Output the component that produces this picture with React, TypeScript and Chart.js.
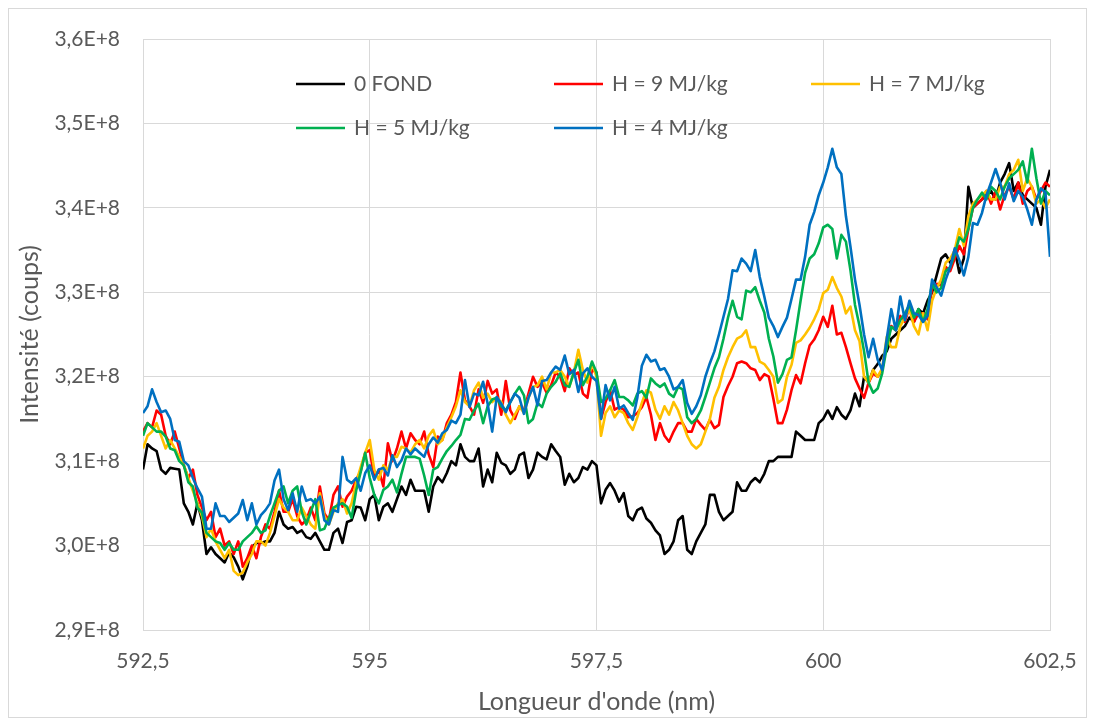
import React, { useEffect, useRef } from "react";
import { Chart, registerables } from "chart.js";

Chart.register(...registerables);

// Wavelength grid (nm): 592.5 -> 602.5, step 0.05
const startNm = 592.5;
const stepNm = 0.05;
const pointCount = 201;
const wavelengths = Array.from({ length: pointCount }, (_, i) => +(startNm + i * stepNm).toFixed(2));

// Intensities in millions of counts (x 1e6), one value per 0.05 nm
const fond = [
  309, 312, 311.5, 311.2, 309, 308.5, 309.2, 309.1, 309, 305, 304, 302.5, 305, 303, 299, 299.8, 299, 298.5, 298, 299.2,
  298.6, 297.5, 296, 297.5, 299.8, 300.3, 300.3, 300.5, 300.5, 301.5, 304, 302.5, 302, 302.2, 301.5, 301.8, 301, 300.8, 301.5, 300.5,
  299.5, 299.5, 301.5, 302, 300.3, 302.8, 303, 304.6, 304.5, 303, 305.5, 306, 303, 304.6, 305, 304, 305.5, 307, 306, 307.8,
  306.5, 306.5, 306.5, 304, 307, 308.1, 307.5, 308.6, 310, 309.5, 312, 310.5, 310, 310, 311.5, 307, 309, 307.5, 311, 309.8,
  309.5, 308.5, 309, 310.7, 311, 308, 309, 311, 310.5, 310.2, 312, 311.2, 310.5, 307.2, 308.5, 307.5, 308, 309.3, 309, 310,
  309.5, 305, 306.6, 307.4, 306.5, 305.2, 306.2, 303.5, 303, 304.2, 304.5, 303.2, 302.7, 301.8, 301.2, 299, 299.5, 300.5, 303, 303.5,
  299.5, 299, 300.5, 301.5, 302.5, 306, 306, 304, 303, 303.5, 304, 307.5, 306.5, 306.5, 307.5, 308, 307.5, 308.5, 310, 310,
  310.5, 310.5, 310.5, 310.5, 313.5, 313, 312.5, 312.5, 312.5, 314.5, 315, 316, 315, 316.4, 315.5, 315, 316, 318, 316.5, 320,
  319.3, 320.8, 321.5, 322.5, 323, 324.5, 325, 325.5, 326, 327, 326.5, 328, 327.5, 329, 330, 332, 334, 334.5, 333.5, 335,
  332.3, 334, 342.5, 340, 340.5, 341, 341.5, 342, 341, 343, 344, 345.3, 342, 343, 341.5, 341, 340.5, 340, 338, 342.5,
  344.5,
];

const h9 = [
  313.5, 314.5, 314, 316, 315.5, 313, 312, 313.5, 311.5, 309.5, 308, 309, 306, 304.5, 303, 304, 301, 302, 300, 300.5,
  299, 300.5, 297.5, 298.5, 300, 298.5, 301, 302.5, 302, 304, 306.5, 304, 304, 305.5, 303.5, 302.5, 303, 304.5, 303, 307,
  303.8, 303, 306, 307, 304.6, 305.8, 306.5, 307.8, 308.8, 311, 311.3, 308, 309, 307, 312.1, 310, 311.5, 313.5, 311.5, 313.3,
  312.5, 312, 313.5, 310.8, 309.3, 312.9, 312.5, 314.5, 315.5, 317, 320.5, 317.2, 316.5, 315.5, 318.5, 316.9, 319.5, 318, 318.5, 315.5,
  319.5, 316, 315, 316.5, 316, 318, 320, 318.8, 319.3, 318.1, 319, 320.5, 320, 318.3, 321, 320.2, 320.5, 318, 317.5, 320.8,
  320.5, 315, 317, 318.4, 316.1, 316.4, 316.1, 315.2, 315.3, 315.7, 316.4, 317.6, 315.5, 312.5, 314.5, 313, 312.3, 313.5, 314.5, 314.5,
  313.5, 313.5, 315, 314.3, 313.7, 314.9, 313.9, 314.3, 317.6, 318.9, 320, 321.6, 321.8, 321.6, 321, 320.8, 319.6, 320.3, 320, 317.4,
  314.5, 314.5, 316.1, 318.4, 320.2, 319.2, 321.6, 323.7, 324.4, 325.5, 327.1, 325.9, 328.4, 325, 325.2, 323.5, 321.6, 319.8, 318.6, 317.5,
  319.3, 320.4, 320, 320.8, 324, 326, 325.5, 327.2, 326.5, 328.3, 326.5, 327.5, 327.5, 326.8, 330.5, 331, 330.8, 333, 332.5, 334,
  335.5, 334.5, 337.5, 340, 340.5, 341, 342, 340.5, 342, 339.8, 341.5, 342.5, 341, 343, 340.5, 342, 342.5, 341, 342, 343,
  342.5,
];

const h7 = [
  311.5, 313, 313.5, 314.5, 313, 311.5, 312.5, 311.5, 310.5, 309.5, 308, 306.5, 305, 303.5, 301, 302, 300.5, 299.5, 298.5, 299.5,
  297, 296.5, 296.8, 298, 299, 300.5, 300.5, 300, 301.5, 303.5, 305.5, 304.5, 304, 303, 303, 304.5, 303.5, 302.5, 302, 306.2,
  303.5, 302.5, 304, 305, 305.5, 303.8, 305, 307.5, 309.3, 311, 312.5, 309, 307.8, 309.5, 309, 310.5, 310.5, 311.7, 311.5, 311,
  312, 312.5, 311.5, 313, 313.7, 312, 312.5, 314, 315.2, 316.5, 318.4, 317, 316.5, 318.4, 319.3, 317.5, 318, 317, 317.5, 317,
  315.5, 314.5, 315.5, 316.5, 315.7, 317.5, 318.8, 319, 320, 318.5, 320.5, 320.5, 320.8, 320, 318.8, 320.5, 323.2, 320.8, 319.3, 321.6,
  320, 313, 315.7, 316.5, 315.2, 316, 315.7, 314.5, 313.7, 315.2, 316.9, 318.4, 318.1, 316.1, 315, 316.5, 315.5, 317, 316, 314.5,
  313, 312, 311.5, 312, 313.5, 315, 317.5, 318.8, 320.8, 322.3, 323.5, 324.5, 324.8, 325.5, 323.5, 323.5, 321.8, 321.5, 320.8, 320,
  316.9, 317.3, 320, 321.4, 324, 324.3, 325, 325.8, 326.8, 328, 329.9, 330.3, 331.8, 330.5, 329.5, 327.5, 328.3, 325.5, 324.2, 320,
  319.3, 320.8, 320, 321, 324.7, 323.5, 323.5, 326, 327, 328, 326, 325, 327.5, 325.5, 329, 330.5, 331.5, 333.5, 334, 335,
  337.5, 335.5, 339, 340.5, 341, 341.5, 342, 341, 341, 342.5, 342.5, 344, 344.5, 345.7, 342, 343.5, 342.5, 340.5, 341, 340,
  341,
];

const h5 = [
  313, 314.5, 314, 313.5, 313.5, 312.9, 311.5, 311.3, 310, 309.5, 307.5, 307, 304.5, 303.9, 301.5, 301, 300.5, 300.3, 299.5, 300.3,
  299.5, 299.5, 300.5, 301, 301.5, 302.3, 301.5, 301.8, 303.5, 305, 306.5, 307, 305, 306.5, 307, 304, 302.5, 304, 305.5, 301.8,
  302, 303.3, 304.5, 304.8, 305, 304.6, 303.3, 306.5, 308.7, 311, 308, 306, 305, 306.6, 307, 307.8, 306.3, 308.5, 310.5, 310.5,
  310.5, 310.3, 308.3, 306, 309, 309.3, 310.3, 311.2, 311.8, 312.5, 313.1, 315, 314.9, 316, 316.8, 314.5, 316.5, 317.3, 317.5, 316.5,
  316, 317, 318, 318.8, 317.8, 314.5, 315, 316.9, 316.4, 318, 318.8, 319.4, 320.4, 319, 318.8, 320.5, 322, 319, 320, 321.8,
  320.5, 317, 317.4, 318.4, 319.6, 317.6, 317.6, 317.2, 316.6, 318, 318.3, 317.5, 319.8, 319.2, 318.8, 319.2, 318, 317.6, 318.8, 318.5,
  315.2, 314.5, 315, 316, 317.6, 319.3, 321, 322.3, 324.5, 327, 329, 327.1, 326.8, 330.2, 330, 330.6, 329, 327.6, 324.5, 322.4,
  319.3, 320.3, 322, 322.3, 325.5, 329, 332.3, 334, 334.5, 335.8, 337.7, 338, 337.5, 334, 336.8, 336, 332.6, 328.5, 326, 323,
  319.3, 318.1, 318.6, 320.4, 323.5, 325.9, 325.5, 326.7, 327.5, 328.5, 327, 328, 326.5, 328, 331, 330, 330.5, 332.5, 333, 334.5,
  336.5, 336, 337.5, 340, 341, 341.8, 341, 342.5, 342, 341, 342.5, 343.5, 344, 344.5, 345.5, 343, 347, 343.5, 340.5, 342,
  341.5,
];

const h4 = [
  315.7, 316.5, 318.5, 317, 315.8, 316, 315, 312.5, 312.3, 310, 309.5, 308, 306.8, 305.8, 302, 302, 305, 303.5, 303.5, 302.8,
  303.3, 303.8, 305.4, 303, 305, 302.5, 303.6, 304.2, 305, 307.7, 309, 305.5, 304.2, 306.2, 304, 307, 305.3, 305.5, 305, 305.8,
  303, 302.5, 304.2, 304, 310.5, 307.8, 307.4, 308, 306.5, 308.6, 309.5, 307.8, 309, 309.2, 308.3, 310.7, 309.3, 310.1, 311.5, 310.8,
  311.5, 311, 310.5, 312, 312.8, 312.2, 313.3, 313.7, 314.8, 314.5, 315.5, 319.6, 316.4, 318, 317.8, 319.4, 316.8, 313.5, 317.6, 316.8,
  315.8, 317, 318, 317.5, 315.6, 317.5, 318.8, 316.6, 319.5, 319.6, 320.5, 321.2, 320.8, 322.5, 320.3, 320.8, 318.2, 320.4, 321, 320,
  319.5, 315, 319, 317.2, 318.8, 316.2, 316.6, 315.7, 314.9, 317.5, 321.3, 322.6, 321.8, 322, 320.8, 321, 320, 318.5, 318.8, 319.6,
  316.9, 315.6, 316.5, 317.8, 320, 321.6, 323, 325, 327.1, 329.2, 332.6, 332.5, 334, 333.4, 332.5, 335, 331.8, 329.5, 327, 326,
  324.7, 325.9, 327, 329.2, 331.5, 331.5, 334.2, 338, 339.5, 341.5, 343, 344.8, 347, 344.8, 344, 339, 335.4, 331.5, 328.5, 325,
  322.3, 324.5, 322, 320.8, 324.5, 328, 325.5, 329.5, 326.7, 329, 327.5, 327.3, 326.5, 327.2, 331.5, 330.6, 329.6, 331.5, 333, 335.2,
  333.8, 332, 334.2, 338.2, 338, 339.4, 341.5, 343, 344.6, 343, 341, 342.9, 340.8, 342, 341.3, 339.8, 338, 341, 342.3, 341.8,
  334.2,
];

const UNIT = 1e6;
const seriesLabels = ["0 FOND", "H = 9 MJ/kg", "H = 7 MJ/kg", "H = 5 MJ/kg", "H = 4 MJ/kg"];
const seriesColors = ["#000000", "#FF0000", "#FFC000", "#00B050", "#0070C0"];
const seriesValues = [fond, h9, h7, h5, h4];

const TEXT = "#595959";
const GRID = "#d9d9d9";
const FONT = "Lato, 'Open Sans', sans-serif";
const LINE_W = 2.6;

const legendPlugin = {
  id: "excelLegend",
  afterDraw(chart: any) {
    const ctx = chart.ctx;
    ctx.save();
    ctx.font = `21px ${FONT}`;
    ctx.fillStyle = TEXT;
    ctx.textBaseline = "middle";
    ctx.textAlign = "left";
    const cols = [287, 545, 802];
    const rows = [75, 119];
    chart.data.datasets.forEach((ds: any, i: number) => {
      const x = cols[i % 3];
      const y = rows[Math.floor(i / 3)];
      ctx.strokeStyle = ds.borderColor;
      ctx.lineWidth = LINE_W;
      ctx.beginPath();
      ctx.moveTo(x, y);
      ctx.lineTo(x + 49, y);
      ctx.stroke();
      ctx.fillText(ds.label, x + 58, y);
    });
    ctx.restore();
  },
};

export default function App() {
  const canvasRef = useRef<HTMLCanvasElement | null>(null);

  useEffect(() => {
    if (!canvasRef.current) return;
    Chart.defaults.font.family = FONT;
    const datasets = seriesValues.map((vals, s) => ({
      label: seriesLabels[s],
      data: vals.map((v, i) => ({ x: wavelengths[i], y: v * UNIT })),
      borderColor: seriesColors[s],
      backgroundColor: seriesColors[s],
      borderWidth: LINE_W,
      borderJoinStyle: "round" as const,
      pointRadius: 0,
      tension: 0,
      fill: false,
      order: seriesValues.length - 1 - s,
    }));
    const chart = new Chart(canvasRef.current, {
      type: "line",
      data: { datasets },
      options: {
        animation: false,
        responsive: false,
        devicePixelRatio: 1,
        layout: { padding: { top: 30, right: 36, left: 0, bottom: 0 } },
        plugins: { legend: { display: false }, tooltip: { enabled: false } },
        scales: {
          x: {
            type: "linear",
            min: 592.5,
            max: 602.5,
            ticks: {
              stepSize: 2.5,
              color: TEXT,
              font: { size: 21 },
              padding: 19,
              maxRotation: 0,
              autoSkip: false,
              callback: (v: any) => String(+Number(v).toFixed(1)).replace(".", ","),
            },
            grid: { color: GRID, lineWidth: 1, drawTicks: false },
            border: { color: GRID },
            title: {
              display: true,
              text: "Longueur d'onde (nm)",
              color: TEXT,
              font: { size: 25 },
              padding: { top: 0, bottom: 0 },
            },
            afterFit: (s: any) => {
              s.height = 87;
              s.paddingLeft = 0;
              s.paddingRight = 0;
            },
          },
          y: {
            type: "linear",
            min: 2.9e8,
            max: 3.6e8,
            ticks: {
              stepSize: 1e7,
              color: TEXT,
              font: { size: 21 },
              padding: 23,
              callback: (v: any) => (Number(v) / 1e8).toFixed(1).replace(".", ",") + "E+8",
            },
            grid: { color: GRID, lineWidth: 1, drawTicks: false },
            border: { color: GRID },
            title: {
              display: true,
              text: "Intensité (coups)",
              color: TEXT,
              font: { size: 25 },
              padding: { top: 6, bottom: 0 },
            },
            afterFit: (s: any) => {
              s.width = 134;
              s.paddingTop = 0;
              s.paddingBottom = 0;
            },
          },
        },
      },
      plugins: [legendPlugin],
    });
    return () => chart.destroy();
  }, []);

  return (
    <div
      style={{
        width: 1077,
        height: 708,
        border: `1px solid ${GRID}`,
        background: "#fff",
      }}
    >
      <canvas ref={canvasRef} width={1077} height={708} style={{ display: "block" }} />
    </div>
  );
}
